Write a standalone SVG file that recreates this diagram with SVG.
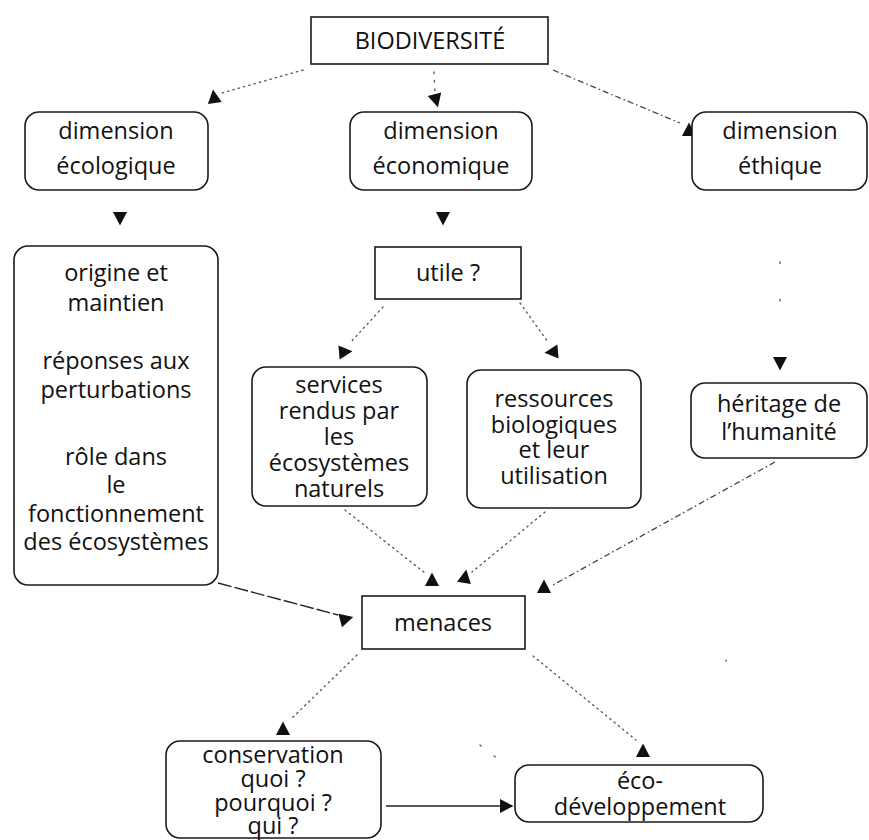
<svg xmlns="http://www.w3.org/2000/svg" width="869" height="840" viewBox="0 0 869 840">
<style>
.box{fill:#fff;stroke:#1a1a1a;stroke-width:1.6}
.t{font-family:"Open Sans","Noto Sans","Liberation Sans",sans-serif;font-size:23.5px;fill:#111;text-anchor:middle}
.dot{fill:none;stroke:#555;stroke-width:1.3;stroke-dasharray:1.5 4;stroke-linecap:round}
.dash{fill:none;stroke:#444;stroke-width:1.3;stroke-dasharray:6 3 1.5 3}
.solid{fill:none;stroke:#222;stroke-width:1.6}
.ah{fill:#111}
</style>
<defs>
<path id="tri" d="M0,-7.5 L7,6 L-7,6 Z"/>
</defs>
<rect width="869" height="840" fill="#fff"/>
<g id="connectors">
<path class="dot" d="M303,70 L222,93"/>
<path class="dot" d="M434,72 L435,92" style="stroke-dasharray:1.5 7"/>
<path class="dash" d="M553,70 L680,123"/>
<path class="dot" d="M780,262 L780,305" style="stroke-dasharray:1.5 36"/>
<path class="dot" d="M383,307 L350,343"/>
<path class="dot" d="M520,303 L548,342"/>
<path class="dot" d="M345,510 L425,573"/>
<path class="dot" d="M545,512 L472,572"/>
<path class="dash" d="M775,462 L553,585"/>
<path class="solid" d="M218,583 L338,615" style="stroke-dasharray:14 3;stroke-width:1.4"/>
<path class="dot" d="M357,655 L290,720"/>
<path class="dot" d="M533,656 L636,740"/>
<path class="solid" d="M386,806 L500,806"/>
<path class="dot" d="M480,745 L483,748 M494,756 L497,758 M726,660 L726,661"/>
<use href="#tri" class="ah" transform="translate(214,97) rotate(-8)"/>
<use href="#tri" class="ah" transform="translate(436,100) rotate(165)"/>
<use href="#tri" class="ah" transform="translate(689,130)"/>
<use href="#tri" class="ah" transform="translate(120,218) rotate(180)"/>
<use href="#tri" class="ah" transform="translate(443,218) rotate(180)"/>
<use href="#tri" class="ah" transform="translate(345,352) rotate(85)"/>
<use href="#tri" class="ah" transform="translate(552,352) rotate(-95)"/>
<use href="#tri" class="ah" transform="translate(780,363) rotate(180)"/>
<use href="#tri" class="ah" transform="translate(432,580)"/>
<use href="#tri" class="ah" transform="translate(465,577) rotate(10)"/>
<use href="#tri" class="ah" transform="translate(544,587)"/>
<use href="#tri" class="ah" transform="translate(346,619) rotate(75)"/>
<use href="#tri" class="ah" transform="translate(283,729)"/>
<use href="#tri" class="ah" transform="translate(643,751)"/>
<use href="#tri" class="ah" transform="translate(506,806) rotate(90)"/>
</g>
<g id="biodiversite">
<rect class="box" x="311" y="17" width="237" height="47"/>
<text class="t" x="430" y="49">BIODIVERSITÉ</text>
</g>
<g id="dim-ecologique">
<rect class="box" x="25" y="112" width="183" height="78" rx="14"/>
<text class="t" x="116" y="139">dimension</text>
<text class="t" x="116" y="174">écologique</text>
</g>
<g id="dim-economique">
<rect class="box" x="350" y="112" width="182" height="78" rx="14"/>
<text class="t" x="441" y="139">dimension</text>
<text class="t" x="441" y="174">économique</text>
</g>
<g id="dim-ethique">
<rect class="box" x="692" y="112" width="175" height="78" rx="14"/>
<text class="t" x="780" y="139">dimension</text>
<text class="t" x="780" y="174">éthique</text>
</g>
<g id="origine">
<rect class="box" x="14" y="246" width="204" height="339" rx="14"/>
<text class="t" x="116" y="281">origine et</text>
<text class="t" x="116" y="311">maintien</text>
<text class="t" x="116" y="369">réponses aux</text>
<text class="t" x="116" y="398">perturbations</text>
<text class="t" x="116" y="465">rôle dans</text>
<text class="t" x="116" y="493">le</text>
<text class="t" x="116" y="522">fonctionnement</text>
<text class="t" x="116" y="550">des écosystèmes</text>
</g>
<g id="utile">
<rect class="box" x="375" y="247" width="146" height="52"/>
<text class="t" x="448" y="281">utile ?</text>
</g>
<g id="services">
<rect class="box" x="252" y="367" width="175" height="139" rx="14"/>
<text class="t" x="339" y="393">services</text>
<text class="t" x="339" y="419">rendus par</text>
<text class="t" x="339" y="445">les</text>
<text class="t" x="339" y="471">écosystèmes</text>
<text class="t" x="339" y="497">naturels</text>
</g>
<g id="ressources">
<rect class="box" x="467" y="370" width="174" height="138" rx="14"/>
<text class="t" x="554" y="407">ressources</text>
<text class="t" x="554" y="433">biologiques</text>
<text class="t" x="554" y="458">et leur</text>
<text class="t" x="554" y="484">utilisation</text>
</g>
<g id="heritage">
<rect class="box" x="691" y="383" width="176" height="75" rx="14"/>
<text class="t" x="779" y="412">héritage de</text>
<text class="t" x="779" y="440">l’humanité</text>
</g>
<g id="menaces">
<rect class="box" x="362" y="596" width="163" height="53"/>
<text class="t" x="443" y="631">menaces</text>
</g>
<g id="conservation">
<rect class="box" x="166" y="741" width="215" height="97" rx="14"/>
<text class="t" x="273" y="763">conservation</text>
<text class="t" x="273" y="787">quoi ?</text>
<text class="t" x="273" y="811">pourquoi ?</text>
<text class="t" x="273" y="834">qui ?</text>
</g>
<g id="eco-developpement">
<rect class="box" x="515" y="765" width="248" height="57" rx="14"/>
<text class="t" x="640" y="789">éco-</text>
<text class="t" x="640" y="815">développement</text>
</g>
</svg>
